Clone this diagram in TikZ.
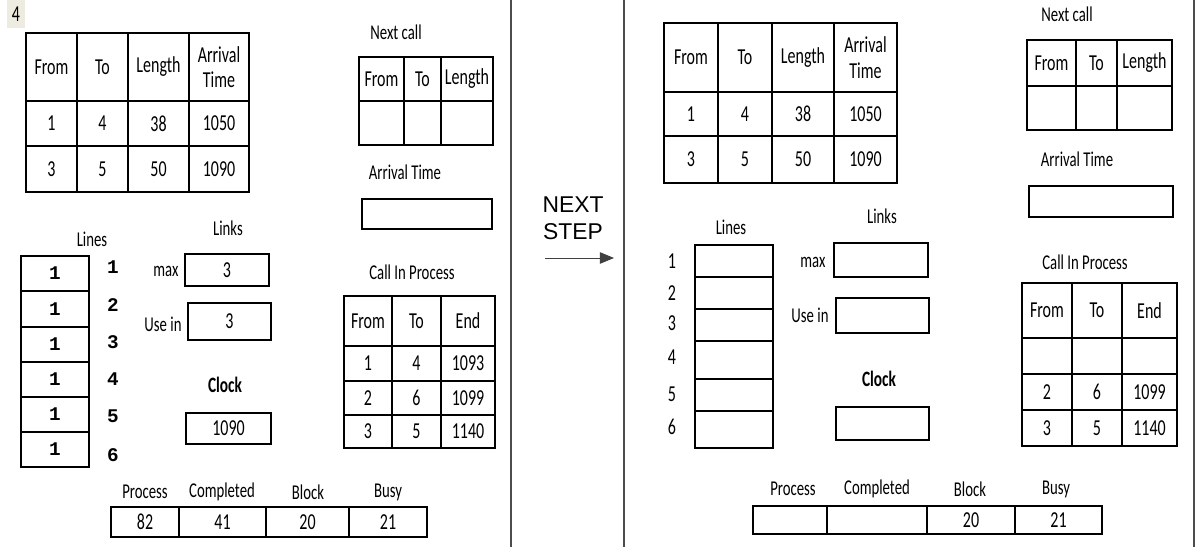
\documentclass[tikz,border=0pt]{standalone}
\usepackage{fontspec}
\setmainfont[FakeStretch=0.7]{Carlito}
\newfontfamily\arialfont{Liberation Sans}
\newfontfamily\monofont{Liberation Mono}
\usetikzlibrary{arrows.meta}
\definecolor{tagbg}{HTML}{EEEBE0}
\tikzset{
  cell/.style={draw=black, line width=1.45pt, inner sep=0pt, align=center,
    font=\fontsize{13}{14.5}\selectfont},
  caption/.style={inner sep=0pt, align=center, font=\fontsize{12}{13.5}\selectfont},
  numtag/.style={inner sep=0pt, font=\monofont\bfseries\fontsize{11}{12}\selectfont},
  plaintag/.style={inner sep=0pt, font=\fontsize{13}{14}\selectfont},
  divider/.style={draw=black!70, line width=0.6pt},
  stepbox/.style={inner sep=0pt, align=center, font=\arialfont\fontsize{13}{15.5}\selectfont},
  arr/.style={-{Triangle[length=8pt,width=6.5pt]}, draw=black!75, fill=black!75, line width=0.5pt}
}
% one table cell spanned by two corners (px, y down)
\newcommand{\cellbox}[6]{\node[cell, minimum width={(#4-#2)*0.02cm}, minimum height={(#5-#3)*0.02cm}]
  (#1) at ({(#2+#4)/2},{(#3+#5)/2}) {#6};}

\begin{document}
\begin{tikzpicture}[x=0.02cm, y=-0.02cm]
  \useasboundingbox (0,0) rectangle (1199,547);

  % ---- panel separators ----
  \draw[divider] (511,0) -- (511,547);
  \draw[divider] (624,0) -- (624,547);
  \draw[divider] (1194,0) -- (1194,547);

  \node[fill=tagbg, inner sep=0pt, minimum width=0.36cm, minimum height=0.56cm,
    font=\fontsize{13}{14}\selectfont] (tag) at (16,14) {4};

  % ==== LEFT STATE ====
  % ---- arrivals table ----
  \cellbox{aLh1}{26}{33}{77}{101}{From}
  \cellbox{aLh2}{77}{33}{128}{101}{To}
  \cellbox{aLh3}{128}{33}{189}{101}{Length}
  \cellbox{aLh4}{189}{33}{249}{101}{Arrival\\Time}
  \cellbox{aLa1}{26}{101}{77}{146}{1}
  \cellbox{aLa2}{77}{101}{128}{146}{4}
  \cellbox{aLa3}{128}{101}{189}{146}{38}
  \cellbox{aLa4}{189}{101}{249}{146}{1050}
  \cellbox{aLb1}{26}{146}{77}{192}{3}
  \cellbox{aLb2}{77}{146}{128}{192}{5}
  \cellbox{aLb3}{128}{146}{189}{192}{50}
  \cellbox{aLb4}{189}{146}{249}{192}{1090}

  % ---- next call ----
  \node[caption] (nextL) at (396,32) {Next call};
  \cellbox{nLh1}{359}{57}{404}{101}{From}
  \cellbox{nLh2}{404}{57}{441}{101}{To}
  \cellbox{nLh3}{441}{57}{493}{101}{Length}
  \cellbox{nLv1}{359}{101}{404}{145}{}
  \cellbox{nLv2}{404}{101}{441}{145}{}
  \cellbox{nLv3}{441}{101}{493}{145}{}

  \node[caption] (arrtL) at (405,172) {Arrival Time};
  \cellbox{arrL}{362}{199}{492}{229}{}

  % ---- call in process ----
  \node[caption] (cipL) at (412,272) {Call In Process};
  \cellbox{cLh1}{344}{296}{392}{346}{From}
  \cellbox{cLh2}{392}{296}{441}{346}{To}
  \cellbox{cLh3}{441}{296}{495}{346}{End}
  \cellbox{cLa1}{344}{346}{392}{381}{1}
  \cellbox{cLa2}{392}{346}{441}{381}{4}
  \cellbox{cLa3}{441}{346}{495}{381}{1093}
  \cellbox{cLb1}{344}{381}{392}{415}{2}
  \cellbox{cLb2}{392}{381}{441}{415}{6}
  \cellbox{cLb3}{441}{381}{495}{415}{1099}
  \cellbox{cLc1}{344}{415}{392}{448}{3}
  \cellbox{cLc2}{392}{415}{441}{448}{5}
  \cellbox{cLc3}{441}{415}{495}{448}{1140}

  % ---- lines ----
  \node[caption] (linesL) at (92,239) {Lines};
  \foreach \i/\ya/\yb/\yn in {1/256/291/267, 2/291/327/305, 3/327/362/342,
                              4/362/397/379, 5/397/432/416, 6/432/467/455} {
    \cellbox{lnL\i}{21}{\ya}{89}{\yb}{\monofont\bfseries\fontsize{11}{12}\selectfont 1}
    \node[numtag] (lnLn\i) at (113,\yn) {\i};
  }

  % ---- links and clock ----
  \node[caption] (linksL) at (228,228) {Links};
  \node[caption] (maxL) at (166,271) {max};
  \cellbox{maxLb}{185}{254}{269}{286}{3}
  \node[caption] (useL) at (163,324) {Use in};
  \cellbox{useLb}{188}{303}{271}{340}{3}
  \node[caption, font=\bfseries\fontsize{12.5}{14}\selectfont] (clkL) at (225,385) {Clock};
  \cellbox{clkLb}{186}{413}{271}{444}{1090}

  % ---- counters ----
  \node[caption] at (145,492) {Process};
  \node[caption] at (222,492) {Completed};
  \node[caption] at (308,492) {Block};
  \node[caption] at (388,492) {Busy};
  \cellbox{sL1}{111}{507}{179}{537}{82}
  \cellbox{sL2}{179}{507}{266}{537}{41}
  \cellbox{sL3}{266}{507}{349}{537}{20}
  \cellbox{sL4}{349}{507}{427}{537}{21}

  % ---- step arrow ----
  \node[stepbox] (step) at (573,218) {NEXT\\STEP};
  \coordinate (stepfrom) at (545,258);
  \coordinate (stepto) at (614,258);
  \draw[arr] (stepfrom) -- (stepto);

  % ==== RIGHT STATE ====
  \cellbox{aRh1}{664}{23}{718}{92}{From}
  \cellbox{aRh2}{718}{23}{772}{92}{To}
  \cellbox{aRh3}{772}{23}{834}{92}{Length}
  \cellbox{aRh4}{834}{23}{897}{92}{Arrival\\Time}
  \cellbox{aRa1}{664}{92}{718}{136}{1}
  \cellbox{aRa2}{718}{92}{772}{136}{4}
  \cellbox{aRa3}{772}{92}{834}{136}{38}
  \cellbox{aRa4}{834}{92}{897}{136}{1050}
  \cellbox{aRb1}{664}{136}{718}{183}{3}
  \cellbox{aRb2}{718}{136}{772}{183}{5}
  \cellbox{aRb3}{772}{136}{834}{183}{50}
  \cellbox{aRb4}{834}{136}{897}{183}{1090}

  \node[caption] (nextR) at (1067,14) {Next call};
  \cellbox{nRh1}{1027}{40}{1076}{86}{From}
  \cellbox{nRh2}{1076}{40}{1117}{86}{To}
  \cellbox{nRh3}{1117}{40}{1172}{86}{Length}
  \cellbox{nRv1}{1027}{86}{1076}{130}{}
  \cellbox{nRv2}{1076}{86}{1117}{130}{}
  \cellbox{nRv3}{1117}{86}{1172}{130}{}

  \node[caption] (arrtR) at (1077,159) {Arrival Time};
  \cellbox{arrR}{1029}{186}{1173}{217}{}

  \node[caption] (cipR) at (1085,262) {Call In Process};
  \cellbox{cRh1}{1022}{283}{1072}{338}{From}
  \cellbox{cRh2}{1072}{283}{1122}{338}{To}
  \cellbox{cRh3}{1122}{283}{1177}{338}{End}
  \cellbox{cRa1}{1022}{338}{1072}{374}{}
  \cellbox{cRa2}{1072}{338}{1122}{374}{}
  \cellbox{cRa3}{1122}{338}{1177}{374}{}
  \cellbox{cRb1}{1022}{374}{1072}{410}{2}
  \cellbox{cRb2}{1072}{374}{1122}{410}{6}
  \cellbox{cRb3}{1122}{374}{1177}{410}{1099}
  \cellbox{cRc1}{1022}{410}{1072}{446}{3}
  \cellbox{cRc2}{1072}{410}{1122}{446}{5}
  \cellbox{cRc3}{1122}{410}{1177}{446}{1140}

  \node[caption] (linesR) at (731,227) {Lines};
  \foreach \i/\ya/\yb/\yn in {1/245/277/261, 2/277/309/293, 3/309/341/323,
                              4/341/379/357, 5/379/411/394, 6/411/448/427} {
    \cellbox{lnR\i}{695}{\ya}{773}{\yb}{}
    \node[plaintag] (lnRn\i) at (672,\yn) {\i};
  }

  \node[caption] (linksR) at (882,216) {Links};
  \node[caption] (maxR) at (813,262) {max};
  \cellbox{maxRb}{834}{243}{928}{277}{}
  \node[caption] (useR) at (810,315) {Use in};
  \cellbox{useRb}{836}{298}{929}{333}{}
  \node[caption, font=\bfseries\fontsize{12.5}{14}\selectfont] (clkR) at (879,379) {Clock};
  \cellbox{clkRb}{836}{407}{929}{440}{}

  \node[caption] at (793,489) {Process};
  \node[caption] at (877,489) {Completed};
  \node[caption] at (970,489) {Block};
  \node[caption] at (1056,489) {Busy};
  \cellbox{sR1}{753}{506}{827}{534}{}
  \cellbox{sR2}{827}{506}{927}{534}{}
  \cellbox{sR3}{927}{506}{1015}{534}{20}
  \cellbox{sR4}{1015}{506}{1102}{534}{21}

\end{tikzpicture}
\end{document}
